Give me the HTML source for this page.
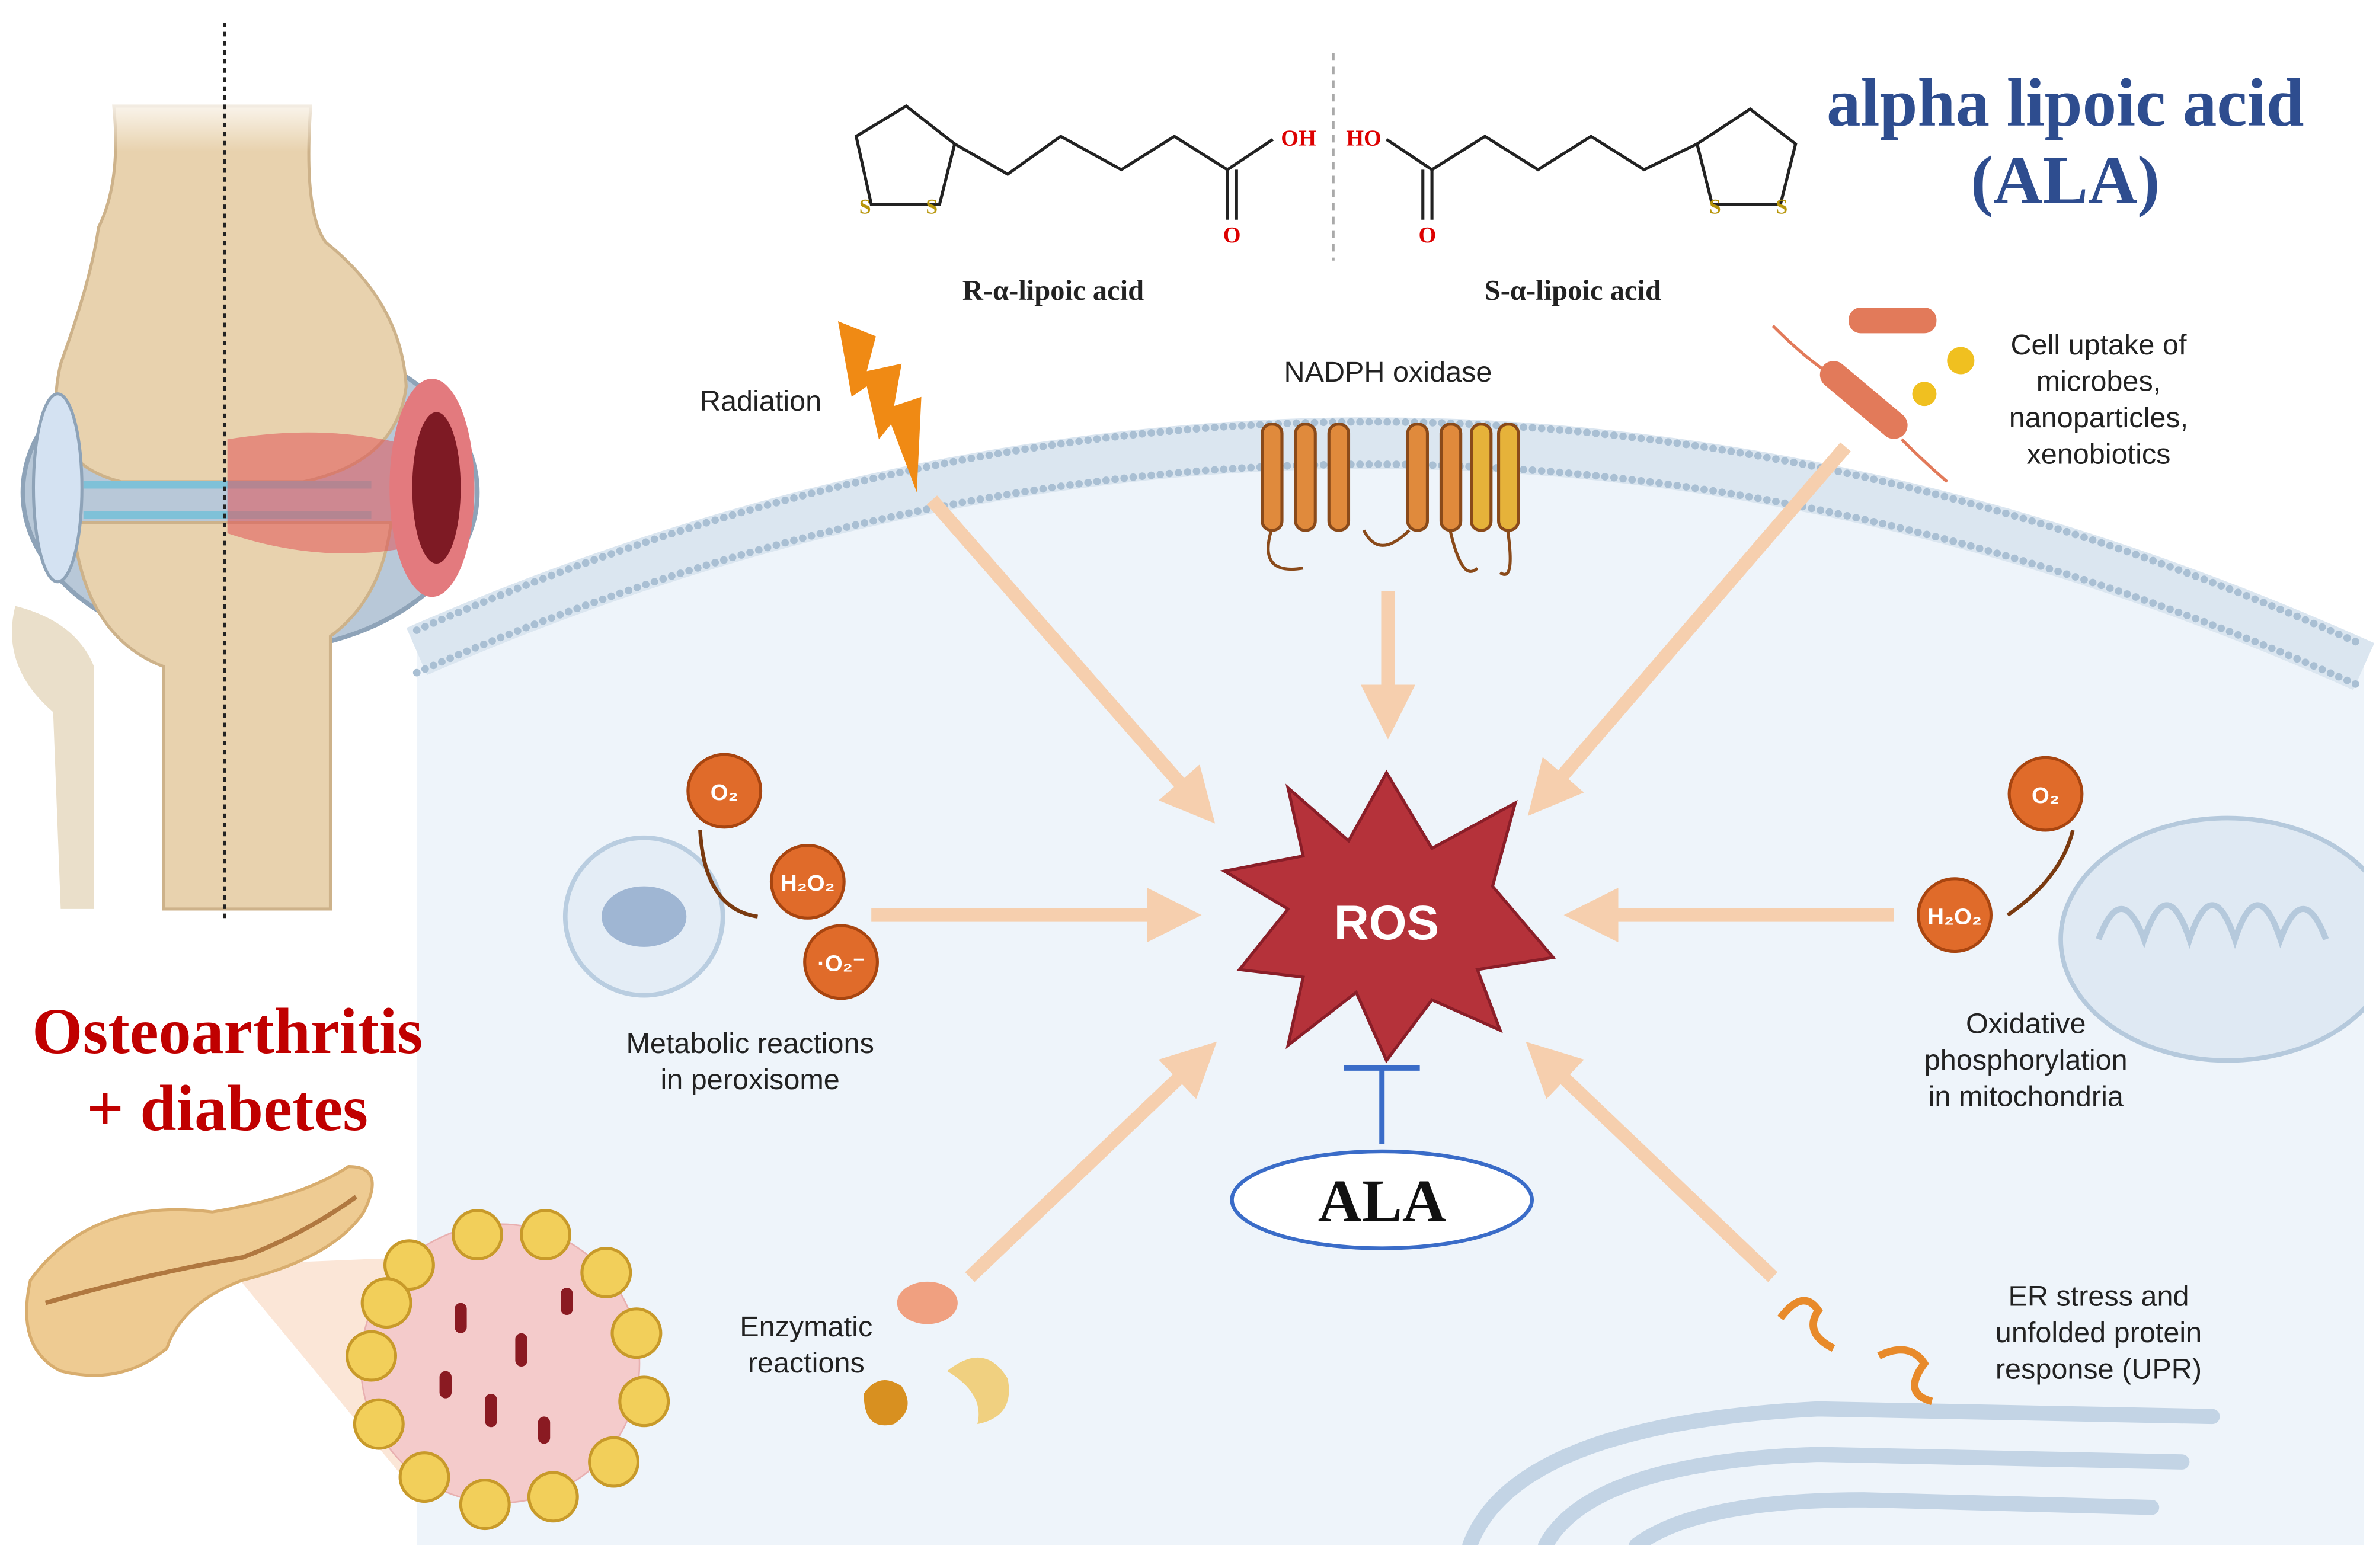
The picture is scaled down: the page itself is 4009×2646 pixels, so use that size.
<!DOCTYPE html>
<html><head><meta charset="utf-8"><style>
html,body{margin:0;padding:0;background:#fff}
svg{display:block}
.s{font-family:"Liberation Sans",sans-serif;fill:#222}
.r{font-family:"Liberation Serif",serif;font-weight:bold}
</style></head><body>
<svg width="4009" height="2646" viewBox="0 0 1568 1035" xmlns="http://www.w3.org/2000/svg">
<defs>
<marker id="ah" markerWidth="4" markerHeight="4" refX="2" refY="2" orient="auto" markerUnits="strokeWidth"><path d="M0,0 L4,2 L0,4 Z" fill="#f6cfae"/></marker>
<clipPath id="cell"><path d="M275,430 Q915,150 1560,440 L1560,1020 L275,1020 Z"/></clipPath>
<linearGradient id="fade" x1="0" y1="0" x2="0" y2="1"><stop offset="0" stop-color="#fff" stop-opacity="1"/><stop offset="1" stop-color="#fff" stop-opacity="0"/></linearGradient>
</defs>
<rect width="1568" height="1035" fill="#fff"/>
<!-- cell -->
<path d="M275,430 Q915,150 1560,440 L1560,1020 L275,1020 Z" fill="#eef4fa"/>
<path d="M275,430 Q915,150 1560,440" fill="none" stroke="#dbe6f0" stroke-width="34"/>
<path d="M275,416 Q915,136 1560,426" fill="none" stroke="#a9bfd3" stroke-width="5" stroke-linecap="round" stroke-dasharray="0 6"/>
<path d="M275,444 Q915,164 1560,454" fill="none" stroke="#a9bfd3" stroke-width="5" stroke-linecap="round" stroke-dasharray="0 6"/>
<g clip-path="url(#cell)">
<ellipse cx="1470" cy="620" rx="110" ry="80" fill="#dfe9f3" stroke="#b5c9dc" stroke-width="3"/>
<path d="M1385,620 q15,-40 30,0 q15,-45 30,0 q15,-45 30,0 q15,-45 30,0 q15,-40 30,0" fill="none" stroke="#b5c9dc" stroke-width="4"/>
<g fill="none" stroke="#c3d4e5" stroke-width="10" stroke-linecap="round">
<path d="M970,1020 Q1000,940 1200,930 L1460,935"/>
<path d="M1020,1020 Q1050,965 1200,960 L1440,965"/>
<path d="M1080,1020 Q1120,990 1230,990 L1420,995"/>
</g>
</g>
<!-- knee -->
<g>
<path d="M10,400 Q0,440 35,470 L40,600 L62,600 L62,440 Q50,410 10,400 Z" fill="#eadfca"/>
<ellipse cx="165" cy="325" rx="150" ry="105" fill="#b8c8d8" stroke="#8ea3b8" stroke-width="3"/>
<path d="M75,70 L205,70 Q200,140 215,160 Q265,200 268,255 Q262,305 200,318 L80,318 Q25,305 40,240 Q60,185 65,150 Q80,120 75,70 Z" fill="#e8d2ae" stroke="#cdb28a" stroke-width="2"/>
<path d="M48,345 L258,345 Q252,395 218,420 L218,600 L108,600 L108,440 Q55,420 48,345 Z" fill="#e8d2ae" stroke="#cdb28a" stroke-width="2"/>
<rect x="60" y="60" width="160" height="40" fill="url(#fade)"/>
<ellipse cx="38" cy="322" rx="16" ry="62" fill="#d4e2f2" stroke="#8ea3b8" stroke-width="2"/>
<path d="M55,320 L245,320 M55,340 L245,340" stroke="#7fc1d8" stroke-width="5"/>
<path d="M150,290 Q210,280 262,292 L266,362 Q210,372 150,352 Z" fill="#e05358" opacity="0.55"/>
<ellipse cx="285" cy="322" rx="28" ry="72" fill="#e37a7e"/>
<ellipse cx="288" cy="322" rx="16" ry="50" fill="#7e1a24"/>
<line x1="148" y1="15" x2="148" y2="608" stroke="#222" stroke-width="2" stroke-dasharray="3 3"/>
</g>
<text x="150" y="695" text-anchor="middle" class="r" font-size="43" fill="#c00000">Osteoarthritis</text>
<text x="150" y="746" text-anchor="middle" class="r" font-size="43" fill="#c00000">+ diabetes</text>
<!-- pancreas -->
<path d="M150,835 L270,830 L270,980 Z" fill="#f9dcc6" opacity="0.7"/>
<path d="M20,845 Q60,790 140,800 Q200,790 230,770 Q255,770 240,800 Q220,830 160,845 Q120,860 110,890 Q80,915 40,905 Q10,890 20,845 Z" fill="#eecb92" stroke="#d8ad6e" stroke-width="2"/>
<path d="M30,860 Q100,840 160,830 Q200,815 235,790" fill="none" stroke="#b07840" stroke-width="3"/>
<circle cx="330" cy="900" r="92" fill="#f4cbcb" stroke="#e8b0b0"/>
<g fill="#f2cf5a" stroke="#c89a2a" stroke-width="2">
<circle cx="270" cy="835" r="16"/><circle cx="315" cy="815" r="16"/><circle cx="360" cy="815" r="16"/><circle cx="400" cy="840" r="16"/><circle cx="420" cy="880" r="16"/><circle cx="425" cy="925" r="16"/><circle cx="405" cy="965" r="16"/><circle cx="365" cy="988" r="16"/><circle cx="320" cy="993" r="16"/><circle cx="280" cy="975" r="16"/><circle cx="250" cy="940" r="16"/><circle cx="245" cy="895" r="16"/><circle cx="255" cy="860" r="16"/>
</g>
<g fill="#8a1a22"><rect x="300" y="860" width="8" height="20" rx="4"/><rect x="340" y="880" width="8" height="22" rx="4"/><rect x="370" y="850" width="8" height="18" rx="4"/><rect x="320" y="920" width="8" height="22" rx="4"/><rect x="355" y="935" width="8" height="18" rx="4"/><rect x="290" y="905" width="8" height="18" rx="4"/></g>
<!-- title -->
<text x="1363" y="83" text-anchor="middle" class="r" font-size="45" fill="#2e4d8f">alpha lipoic acid</text>
<text x="1363" y="134" text-anchor="middle" class="r" font-size="45" fill="#2e4d8f">(ALA)</text>
<!-- chemistry -->
<line x1="880" y1="35" x2="880" y2="172" stroke="#aaa" stroke-width="1.5" stroke-dasharray="5 4"/>
<g fill="none" stroke="#222" stroke-width="2">
<path d="M565,90 L598,70 L630,95 L620,135 L575,135 Z"/>
<path d="M630,95 L665,115 L700,90 L740,112 L775,90 L810,112 L840,92"/>
<path d="M810,112 L810,145 M816,112 L816,145"/>
<path d="M1185,95 L1155,72 L1120,95 L1130,135 L1175,135 Z"/>
<path d="M1120,95 L1085,112 L1050,90 L1015,112 L980,90 L945,112 L915,92"/>
<path d="M945,112 L945,145 M939,112 L939,145"/>
</g>
<text x="857" y="96" text-anchor="middle" class="r" font-size="15" fill="#d00">OH</text>
<text x="900" y="96" text-anchor="middle" class="r" font-size="15" fill="#d00">HO</text>
<text x="813" y="160" text-anchor="middle" class="r" font-size="15" fill="#d00">O</text>
<text x="942" y="160" text-anchor="middle" class="r" font-size="15" fill="#d00">O</text>
<g class="r" font-size="14" fill="#b8960a"><text x="567" y="141">S</text><text x="611" y="141">S</text><text x="1128" y="141">S</text><text x="1172" y="141">S</text></g>
<text x="695" y="198" text-anchor="middle" class="r" font-size="19" fill="#222">R-α-lipoic acid</text>
<text x="1038" y="198" text-anchor="middle" class="r" font-size="19" fill="#222">S-α-lipoic acid</text>
<!-- radiation -->
<path d="M553,212 L578,222 L572,245 L595,240 L590,268 L608,262 L605,325 L588,280 L580,290 L572,255 L562,262 Z" fill="#f08a14"/>
<text x="502" y="271" text-anchor="middle" class="s" font-size="19">Radiation</text>
<text x="916" y="252" text-anchor="middle" class="s" font-size="19">NADPH oxidase</text>
<!-- NADPH -->
<g stroke="#8a4a1a" stroke-width="2">
<g fill="#e08a3c"><rect x="833" y="280" width="13" height="70" rx="6"/><rect x="855" y="280" width="13" height="70" rx="6"/><rect x="877" y="280" width="13" height="70" rx="6"/><rect x="929" y="280" width="13" height="70" rx="6"/><rect x="951" y="280" width="13" height="70" rx="6"/></g>
<g fill="#e6b23a"><rect x="971" y="280" width="13" height="70" rx="6"/><rect x="989" y="280" width="13" height="70" rx="6"/></g>
<path d="M839,350 Q830,380 860,375 M900,350 Q910,370 930,350 M957,350 Q965,385 975,375 M995,350 Q1000,385 990,378" fill="none"/>
</g>
<!-- microbes -->
<rect x="1220" y="203" width="58" height="17" rx="8" fill="#e27a5a"/>
<circle cx="1294" cy="238" r="9" fill="#f0c020"/><circle cx="1270" cy="260" r="8" fill="#f0c020"/>
<rect x="1195" y="255" width="70" height="18" rx="9" fill="#e27a5a" transform="rotate(40 1230 264)"/>
<path d="M1170,215 Q1190,235 1205,245 M1255,290 Q1270,305 1285,318" stroke="#e27a5a" stroke-width="2" fill="none"/>
<g class="s" font-size="19" text-anchor="middle"><text x="1385" y="234">Cell uptake of</text><text x="1385" y="258">microbes,</text><text x="1385" y="282">nanoparticles,</text><text x="1385" y="306">xenobiotics</text></g>
<!-- arrows -->
<g stroke="#f6cfae" stroke-width="9" marker-end="url(#ah)">
<line x1="615" y1="330" x2="790" y2="530"/>
<line x1="916" y1="390" x2="916" y2="470"/>
<line x1="1218" y1="295" x2="1020" y2="525"/>
<line x1="575" y1="604" x2="775" y2="604"/>
<line x1="1250" y1="604" x2="1050" y2="604"/>
<line x1="640" y1="843" x2="790" y2="700"/>
<line x1="1170" y1="843" x2="1020" y2="700"/>
</g>
<!-- ROS -->
<path d="M915,510 L945,560 L1000,530 L985,585 L1025,632 L975,640 L990,680 L945,660 L915,700 L895,655 L850,690 L860,645 L818,640 L850,600 L808,575 L860,565 L850,520 L890,555 Z" fill="#b5323a" stroke="#8a1e28" stroke-width="2"/>
<text x="915" y="620" text-anchor="middle" font-family="Liberation Sans,sans-serif" font-weight="bold" font-size="32" fill="#fff">ROS</text>
<!-- ALA -->
<line x1="912" y1="755" x2="912" y2="705" stroke="#3a6cc8" stroke-width="3.5"/>
<line x1="887" y1="705" x2="937" y2="705" stroke="#3a6cc8" stroke-width="3.5"/>
<ellipse cx="912" cy="792" rx="99" ry="32" fill="#fff" stroke="#3a6cc8" stroke-width="2.5"/>
<text x="912" y="806" text-anchor="middle" class="r" font-size="40" fill="#111">ALA</text>
<!-- peroxisome -->
<circle cx="425" cy="605" r="52" fill="#e4edf6" stroke="#b9cde0" stroke-width="3"/>
<ellipse cx="425" cy="605" rx="28" ry="20" fill="#9fb6d3"/>
<g fill="#e06b2a" stroke="#a84510" stroke-width="2"><circle cx="478" cy="522" r="24"/><circle cx="533" cy="582" r="24"/><circle cx="555" cy="635" r="24"/><circle cx="1350" cy="524" r="24"/><circle cx="1290" cy="604" r="24"/></g>
<path d="M462,548 Q465,600 500,605" fill="none" stroke="#7a3a10" stroke-width="2.5"/>
<path d="M1368,548 Q1360,580 1325,604" fill="none" stroke="#7a3a10" stroke-width="2.5"/>
<g font-family="Liberation Sans,sans-serif" font-weight="bold" font-size="15" fill="#fff" text-anchor="middle">
<text x="478" y="528">O₂</text><text x="533" y="588">H₂O₂</text><text x="555" y="641">·O₂⁻</text><text x="1350" y="530">O₂</text><text x="1290" y="610">H₂O₂</text></g>
<g class="s" font-size="19" text-anchor="middle">
<text x="495" y="695">Metabolic reactions</text><text x="495" y="719">in peroxisome</text>
<text x="1337" y="682">Oxidative</text><text x="1337" y="706">phosphorylation</text><text x="1337" y="730">in mitochondria</text>
<text x="532" y="882">Enzymatic</text><text x="532" y="906">reactions</text>
<text x="1385" y="862">ER stress and</text><text x="1385" y="886">unfolded protein</text><text x="1385" y="910">response (UPR)</text>
</g>
<!-- enzymes -->
<ellipse cx="612" cy="860" rx="20" ry="14" fill="#f0a080"/>
<path d="M570,920 q10,-15 25,-5 q10,15 -5,25 q-20,5 -20,-20z" fill="#d89020"/>
<path d="M625,905 q25,-20 40,5 q5,25 -20,30 q5,-20 -20,-35z" fill="#f0d080"/>
<path d="M1175,870 q15,-20 25,-5 q-10,15 10,25 M1240,895 q20,-10 30,5 q-15,20 5,25" fill="none" stroke="#e88a2a" stroke-width="5"/>
</svg>
</body></html>
